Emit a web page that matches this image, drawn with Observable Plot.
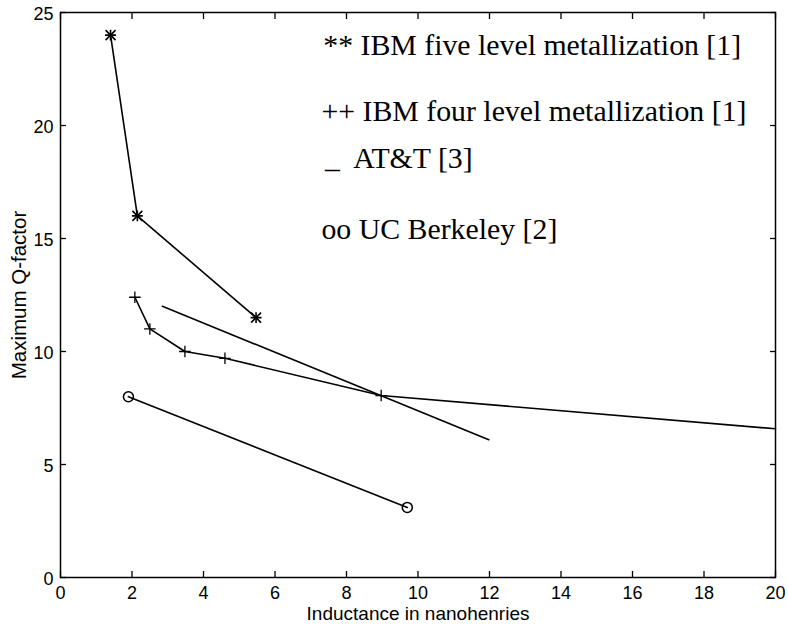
<!DOCTYPE html>
<html>
<head>
<meta charset="utf-8">
<script src="https://cdn.jsdelivr.net/npm/d3@7"></script>
<script src="https://cdn.jsdelivr.net/npm/@observablehq/plot@0.6"></script>
<style>
  html, body { margin: 0; padding: 0; background: #fff; }
  #chart { width: 788px; height: 624px; }
</style>
</head>
<body>
<div id="chart"></div>
<script>
// IBM five level metallization [1] (stars)
const ibm5X = [1.4, 2.15, 5.47];
const ibm5Y = [24, 16, 11.5];
// IBM four level metallization [1] (plus); last point continues to the axis edge
const ibm4X = [2.08, 2.5, 3.48, 4.6, 8.97, 20];
const ibm4Y = [12.4, 11.0, 10.0, 9.7, 8.05, 6.58];
const ibm4Marked = [true, true, true, true, true, false];
// AT&T [3] (line only)
const attX = [2.85, 11.98];
const attY = [12.0, 6.1];
// UC Berkeley [2] (circles)
const ucbX = [1.9, 9.7];
const ucbY = [8.0, 3.1];

const xTicks = [0, 2, 4, 6, 8, 10, 12, 14, 16, 18, 20];
const yTicks = [0, 5, 10, 15, 20, 25];

const legendLabels = [
  "** IBM five level metallization [1]",
  "++ IBM four level metallization [1]",
  "_  AT&T [3]",
  "oo UC Berkeley [2]"
];
const legendX = [7.35, 7.3, 7.4, 7.3];
const legendY = [23.1, 20.2, 18.1, 15.0];

const ibm5 = ibm5X.map((x, i) => ({x, y: ibm5Y[i]}));
const ibm4 = ibm4X.map((x, i) => ({x, y: ibm4Y[i], m: ibm4Marked[i]}));
const att = attX.map((x, i) => ({x, y: attY[i]}));
const ucb = ucbX.map((x, i) => ({x, y: ucbY[i]}));
const legend = legendLabels.map((t, i) => ({t, x: legendX[i], y: legendY[i]}));

const sans = "'Liberation Sans', Arial, Helvetica, sans-serif";
const serif = "'Liberation Serif', 'Times New Roman', serif";

const plot = Plot.plot({
  width: 788,
  height: 624,
  marginLeft: 60,
  marginRight: 13,
  marginTop: 12,
  marginBottom: 47,
  style: {fontFamily: sans, fontSize: "18px", color: "#000", background: "#fff"},
  x: {domain: [0, 20], ticks: xTicks},
  y: {domain: [0, 25], ticks: yTicks},
  marks: [
    Plot.frame({stroke: "#000", strokeWidth: 1.5}),
    // inward ticks on all four sides
    Plot.axisX(xTicks, {anchor: "bottom", tickSize: -6, tickFormat: () => "", strokeWidth: 1.3, label: null}),
    Plot.axisX(xTicks, {anchor: "top", tickSize: -6, tickFormat: () => "", strokeWidth: 1.3, label: null}),
    Plot.axisY(yTicks, {anchor: "left", tickSize: -6, tickFormat: () => "", strokeWidth: 1.3, label: null}),
    Plot.axisY(yTicks, {anchor: "right", tickSize: -6, tickFormat: () => "", strokeWidth: 1.3, label: null}),
    // tick labels
    Plot.axisX(xTicks, {anchor: "bottom", tickSize: 0, tickPadding: 9, fontSize: 18, label: null}),
    Plot.axisY(yTicks, {anchor: "left", tickSize: 0, tickPadding: 7, dy: 2, fontSize: 18, label: null}),
    // axis titles
    Plot.axisX(xTicks, {anchor: "bottom", tickSize: 0, tickFormat: () => "", fontSize: 19, label: "Inductance in nanohenries", labelAnchor: "center", labelOffset: 42, labelArrow: "none"}),
    Plot.axisY(yTicks, {anchor: "left", tickSize: 0, tickFormat: () => "", fontSize: 20.5, label: "Maximum Q-factor", labelAnchor: "center", labelOffset: 49, labelArrow: "none"}),
    // data lines
    Plot.line(ibm5, {x: "x", y: "y", stroke: "#000", strokeWidth: 1.6}),
    Plot.line(ibm4, {x: "x", y: "y", stroke: "#000", strokeWidth: 1.6}),
    Plot.line(att, {x: "x", y: "y", stroke: "#000", strokeWidth: 1.6}),
    Plot.line(ucb, {x: "x", y: "y", stroke: "#000", strokeWidth: 1.6}),
    // markers
    Plot.dot(ibm5, {x: "x", y: "y", symbol: "plus", r: 3.6, stroke: "#000", strokeWidth: 1.6}),
    Plot.dot(ibm5, {x: "x", y: "y", symbol: "times", r: 4.6, stroke: "#000", strokeWidth: 1.6}),
    Plot.dot(ibm4.filter(d => d.m), {x: "x", y: "y", symbol: "plus", r: 3.8, stroke: "#000", strokeWidth: 1.3}),
    Plot.dot(ucb, {x: "x", y: "y", symbol: "circle", r: 5, stroke: "#000", strokeWidth: 1.5, fill: "none"}),
    // in-plot legend text
    Plot.text(legend, {x: "x", y: "y", text: "t", textAnchor: "start", lineAnchor: "bottom", fontFamily: serif, fontSize: 29.8, fill: "#000"})
  ]
});
document.getElementById("chart").appendChild(plot);
</script>
</body>
</html>
